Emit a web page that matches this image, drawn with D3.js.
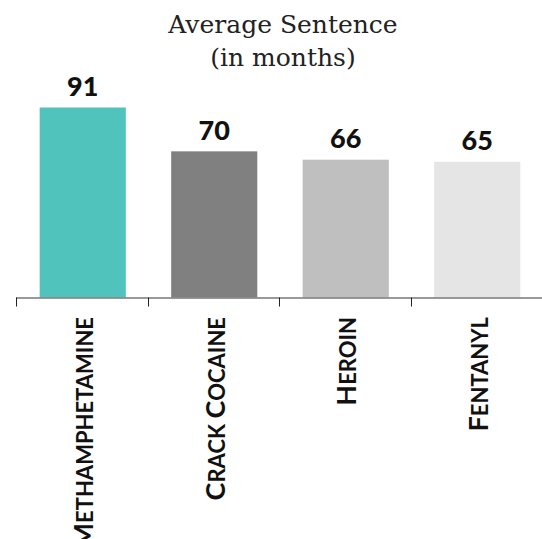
<!DOCTYPE html>
<html>
<head>
<meta charset="utf-8">
<script src="https://cdn.jsdelivr.net/npm/d3@7"></script>
<style>
  html, body { margin: 0; padding: 0; background: #fff; }
  svg { display: block; }
</style>
</head>
<body>
<svg id="chart" width="542" height="539"></svg>
<script>
const categories = ["Methamphetamine", "Crack Cocaine", "Heroin", "Fentanyl"];
const values = [91, 70, 66, 65];
const colors = ["#4FC3BC", "#808080", "#BFBFBF", "#E5E5E5"];
const titleLines = ["Average Sentence", "(in months)"];

const svg = d3.select("#chart");
const baseY = 297.5;

const x = d3.scaleBand().domain(categories).range([16, 542]).padding(0);
const y = d3.scaleLinear().domain([0, 100]).range([baseY, baseY - 208.8]);
const bw = x.bandwidth();
const barOff = bw * 0.18, barW = bw * 0.655;

// title
svg.append("g").selectAll("text").data(titleLines).join("text")
  .attr("x", 283)
  .attr("y", (d, i) => 33 + i * 33)
  .attr("text-anchor", "middle")
  .style("font-family", "'DejaVu Serif', serif")
  .style("font-size", "25px")
  .style("fill", "#222")
  .text(d => d);

// bars
svg.append("g").selectAll("rect").data(categories).join("rect")
  .attr("x", d => x(d) + barOff)
  .attr("width", barW)
  .attr("y", (d, i) => y(values[i]))
  .attr("height", (d, i) => baseY - y(values[i]))
  .attr("fill", (d, i) => colors[i]);

// value labels
svg.append("g").selectAll("text").data(categories).join("text")
  .attr("x", d => x(d) + barOff + barW / 2)
  .attr("y", (d, i) => y(values[i]) - 11.5)
  .attr("text-anchor", "middle")
  .style("font-family", "Lato, sans-serif")
  .style("font-weight", "900")
  .style("font-size", "27px")
  .style("fill", "#111")
  .text((d, i) => values[i]);

// axis
const ax = svg.append("g");
ax.append("line")
  .attr("x1", x.range()[0]).attr("x2", x.range()[1])
  .attr("y1", baseY + 0.5).attr("y2", baseY + 0.5)
  .attr("stroke", "#777").attr("stroke-width", 1.5);
ax.selectAll("line.tick").data(categories).join("line")
  .attr("class", "tick")
  .attr("x1", d => Math.round(x(d)) + 0.5).attr("x2", d => Math.round(x(d)) + 0.5)
  .attr("y1", baseY).attr("y2", baseY + 9)
  .attr("stroke", "#222").attr("stroke-width", 1);

// category labels (small caps)
const lab = svg.append("g").selectAll("text").data(categories).join("text")
  .attr("transform", d => `translate(${x(d) + barOff + barW / 2},317) rotate(-90)`)
  .attr("text-anchor", "end")
  .attr("dy", 10.5)
  .style("font-family", "Lato, sans-serif")
  .style("font-weight", "700")
  .style("fill", "#111");
lab.each(function(d) {
  const t = d3.select(this);
  d.split(" ").forEach((w, k) => {
    if (k > 0) t.append("tspan").style("font-size", "22px").text(" ");
    t.append("tspan").style("font-size", "27px").text(w[0].toUpperCase());
    t.append("tspan").style("font-size", "22px").text(w.slice(1).toUpperCase());
  });
});
</script>
</body>
</html>
